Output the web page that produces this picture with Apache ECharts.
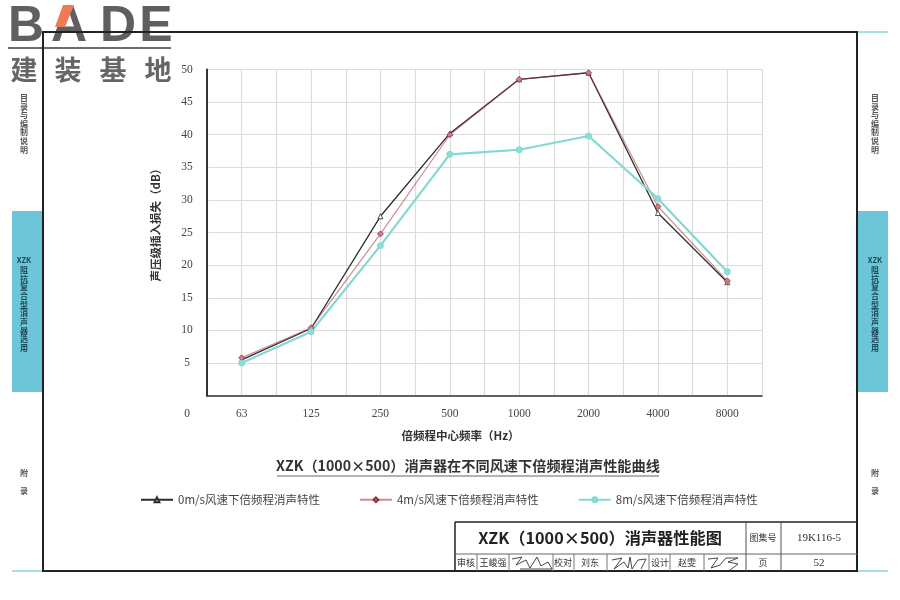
<!DOCTYPE html>
<html>
<head>
<meta charset="utf-8">
<style>
html, body { margin: 0; padding: 0; background: #fff; }
#main { width: 900px; height: 600px; }
</style>
<script src="https://cdn.jsdelivr.net/npm/echarts@6/dist/echarts.min.js"></script>
</head>
<body>
<div id="main"></div>
<script>
var categories = ['63', '125', '250', '500', '1000', '2000', '4000', '8000'];
var halfSteps = ['', '', '', '', '', '', '', '', '', '', '', '', '', '', '', ''];
var speed0 = [5.5, 10.3, 27.5, 40.2, 48.5, 49.5, 28, 17.4];
var speed4 = [5.8, 10.4, 24.8, 40, 48.5, 49.5, 29, 17.6];
var speed8 = [5, 9.8, 23, 37, 37.7, 39.8, 30.2, 19];
var seriesNames = ['0m/s风速下倍频程消声特性', '4m/s风速下倍频程消声特性', '8m/s风速下倍频程消声特性'];

var CJK = '"Noto Sans CJK SC", sans-serif';
var SERIF = '"Liberation Serif", serif';
var LOGO = '"Liberation Sans", sans-serif';
var TEAL = '#6cc6d8';
var FRAME = '#222';

var myChart = echarts.init(document.getElementById('main'));

function txt(x, y, s, size, color, extra) {
	var style = { x: x, y: y, text: s, fontSize: size, fill: color || '#333',
		fontFamily: CJK, align: 'center', verticalAlign: 'middle' };
	for (var k in extra) { style[k] = extra[k]; }
	return { type: 'text', silent: true, style: style };
}
function line(x1, y1, x2, y2, color, w) {
	return { type: 'line', silent: true, shape: { x1: x1, y1: y1, x2: x2, y2: y2 },
		style: { stroke: color || '#555', lineWidth: w || 1 } };
}
function box(x, y, w, h, color) {
	return { type: 'rect', silent: true, shape: { x: x, y: y, width: w, height: h },
		style: { fill: color } };
}
function scribble(points) {
	return { type: 'polyline', silent: true, shape: { points: points },
		style: { stroke: '#333', lineWidth: 0.9, fill: 'none' } };
}
// side tab captions run top to bottom, one character at a time
function column(x, y, step, s, color) {
	return s.split('').map(function(ch, i) {
		return txt(x, y + i * step, ch, 8, color, { fontWeight: 'bold' });
	});
}

var sideText = [];
[24, 875].forEach(function(x) {
	sideText = sideText.concat(
		column(x, 98, 8.6, '目录与编制说明', '#555'),
		[txt(x, 260, 'XZK', 7.5, '#1d4a5a', { fontWeight: 'bold' })],
		column(x, 270, 8.67, '阻抗复合型消声器选用', '#1d4a5a'),
		column(x, 473, 18, '附录', '#555')
	);
});

var graphics = [
	// side tabs
	box(12, 211, 30, 181, TEAL),
	box(858, 211, 30, 181, TEAL),
	line(12, 571, 42, 571, '#a9dde3', 2),
	line(858, 571, 888, 571, '#a9dde3', 2),
	line(858, 32, 888, 32, '#a9dde3', 2)
].concat(sideText, [
	// logo
	txt(26, 27, 'B', 50, '#5f5f61', { fontFamily: LOGO, fontWeight: 'bold' }),
	txt(69, 27, 'A', 50, '#5f5f61', { fontFamily: LOGO, fontWeight: 'bold' }),
	txt(118, 27, 'D', 50, '#5f5f61', { fontFamily: LOGO, fontWeight: 'bold' }),
	txt(156, 27, 'E', 50, '#5f5f61', { fontFamily: LOGO, fontWeight: 'bold' }),
	{ type: 'polygon', silent: true, shape: { points: [[63, 5], [74, 5], [65, 27], [55, 27]] }, style: { fill: '#ef7a55' } },
	line(8, 48, 171, 48, '#6d6d6f', 2),
	txt(24, 70, '建', 27, '#666', { fontWeight: 'bold' }),
	txt(68, 70, '装', 27, '#666', { fontWeight: 'bold' }),
	txt(113, 70, '基', 27, '#666', { fontWeight: 'bold' }),
	txt(158, 70, '地', 27, '#666', { fontWeight: 'bold' }),
	// outer frame
	line(42, 32, 858, 32, FRAME, 2),
	line(857, 31, 857, 572, FRAME, 2),
	line(42, 571, 858, 571, FRAME, 2),
	line(43, 31, 43, 572, FRAME, 2),
	// zero label sits lower than the others
	txt(187, 414, '0', 11.5, '#444', { fontFamily: SERIF }),
	// chart title
	txt(468, 466, 'XZK（1000×500）消声器在不同风速下倍频程消声性能曲线', 14.2, '#333', { fontWeight: 'bold' }),
	line(277, 476, 659, 476, '#666', 1),
	// title block
	line(455, 522, 857, 522, FRAME, 1.5),
	line(455, 522, 455, 571, FRAME, 1.5),
	line(455, 554, 857, 554, '#666', 1),
	line(746, 522, 746, 571, '#555', 1),
	line(781, 522, 781, 571, '#555', 1),
	line(477, 554, 477, 571, '#777', 1),
	line(509, 554, 509, 571, '#777', 1),
	line(553, 554, 553, 571, '#777', 1),
	line(574, 554, 574, 571, '#777', 1),
	line(607, 554, 607, 571, '#777', 1),
	line(649, 554, 649, 571, '#777', 1),
	line(670, 554, 670, 571, '#777', 1),
	line(704, 554, 704, 571, '#777', 1),
	txt(600, 538, 'XZK（1000×500）消声器性能图', 16.2, '#222', { fontWeight: 'bold' }),
	txt(763, 538, '图集号', 9, '#333'),
	txt(819, 538, '19K116-5', 11, '#333', { fontFamily: SERIF }),
	txt(466, 563, '审核', 9, '#333'),
	txt(493, 563, '王峻强', 9, '#333'),
	txt(563, 563, '校对', 9, '#333'),
	txt(590, 563, '刘东', 9, '#333'),
	txt(660, 563, '设计', 9, '#333'),
	txt(687, 563, '赵雯', 9, '#333'),
	txt(763, 563, '页', 9, '#333'),
	txt(819, 563, '52', 11, '#333', { fontFamily: SERIF }),
	// signatures
	scribble([[512, 559], [522, 557], [516, 565], [526, 560], [530, 568], [537, 557], [541, 566], [548, 562], [552, 569], [520, 569]]),
	scribble([[612, 560], [622, 558], [614, 569], [624, 562], [628, 568], [630, 557], [632, 569], [638, 560], [646, 559], [641, 569]]),
	scribble([[708, 559], [718, 558], [711, 568], [720, 565], [726, 558], [738, 558], [728, 562], [738, 564], [730, 570]])
]);

var option = {
	animation: false,
	backgroundColor: '#fff',
	textStyle: { fontFamily: CJK },
	grid: { left: 207, right: 138, top: 69.5, bottom: 204.3 },
	legend: {
		data: seriesNames,
		left: 135,
		top: 489,
		itemWidth: 32,
		itemHeight: 6,
		itemGap: 39,
		textStyle: { fontSize: 11.5, color: '#444', fontFamily: CJK }
	},
	xAxis: [{
		type: 'category',
		data: categories,
		name: '倍频程中心频率（Hz）',
		nameLocation: 'middle',
		nameGap: 34,
		nameTextStyle: { fontSize: 11.5, color: '#333', fontWeight: 'bold', fontFamily: CJK, padding: [0, 48, 0, 0] },
		axisLine: { lineStyle: { color: '#333', width: 1.5 } },
		axisTick: { show: false },
		axisLabel: { fontFamily: SERIF, fontSize: 11.5, color: '#444', margin: 12, interval: 0 },
		splitLine: { show: false }
	}, {
		// half-step axis, only there to draw the vertical grid every half category
		type: 'category',
		data: halfSteps,
		position: 'bottom',
		axisLine: { show: false },
		axisTick: { show: false },
		axisLabel: { show: false },
		splitLine: { show: true, interval: 0, lineStyle: { color: '#dcdcdc', width: 1.2 } }
	}],
	yAxis: {
		type: 'value',
		min: 0,
		max: 50,
		interval: 5,
		name: '声压级插入损失（dB）',
		nameLocation: 'middle',
		nameGap: 46,
		nameTextStyle: { fontSize: 11.5, color: '#333', fontWeight: 'bold', fontFamily: CJK, padding: [0, 0, 0, 21] },
		axisLine: { show: true, lineStyle: { color: '#333', width: 2 } },
		axisTick: { show: false },
		axisLabel: {
			fontFamily: SERIF, fontSize: 11.5, color: '#444', margin: 20, align: 'center',
			formatter: function(v) { return v === 0 ? '' : String(v); }
		},
		splitLine: { show: true, lineStyle: { color: '#dcdcdc', width: 1.2 } }
	},
	series: [{
		name: seriesNames[0],
		type: 'line',
		data: speed0,
		symbol: 'triangle',
		symbolSize: 5,
		lineStyle: { color: '#2c2c2c', width: 1.3 },
		itemStyle: { color: '#fff', borderColor: '#2c2c2c', borderWidth: 0.8 }
	}, {
		name: seriesNames[1],
		type: 'line',
		data: speed4,
		symbol: 'diamond',
		symbolSize: 6,
		lineStyle: { color: '#a03040', width: 1.2, opacity: 0.55 },
		itemStyle: { color: '#c9808c', borderColor: '#8e2f3e', borderWidth: 0.8 }
	}, {
		name: seriesNames[2],
		type: 'line',
		data: speed8,
		symbol: 'circle',
		symbolSize: 6,
		lineStyle: { color: '#84d8d2', width: 2.2 },
		itemStyle: { color: '#8fdcd6', borderColor: '#84d8d2', borderWidth: 1 }
	}],
	graphic: graphics
};

myChart.setOption(option);
</script>
</body>
</html>
